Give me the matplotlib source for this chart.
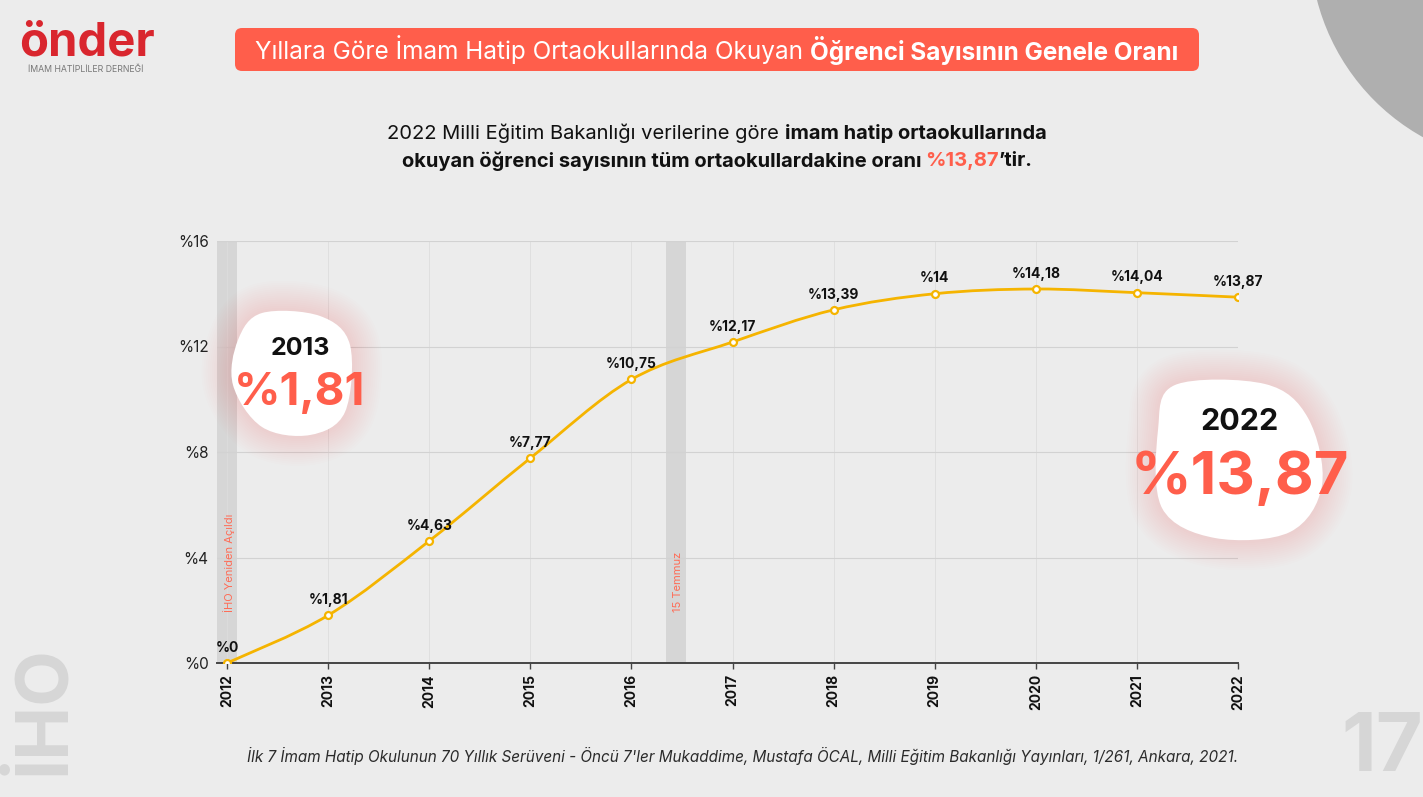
import numpy as np
import matplotlib
matplotlib.use('Agg')
import matplotlib.pyplot as plt
from matplotlib.path import Path
from matplotlib.patches import PathPatch, FancyBboxPatch, Circle

plt.rcParams['font.family'] = ['Inter', 'DejaVu Sans']

# veri
years = [2012, 2013, 2014, 2015, 2016, 2017, 2018, 2019, 2020, 2021, 2022]
ratios = [0, 1.81, 4.63, 7.77, 10.75, 12.17, 13.39, 14.00, 14.18, 14.04, 13.87]
y_ticks = [0, 4, 8, 12, 16]
events = [2012.0, 2016.44]
event_labels = ["İHO Yeniden Açıldı", "15 Temmuz"]

title_regular = "Yıllara Göre İmam Hatip Ortaokullarında Okuyan"
title_bold = "Öğrenci Sayısının Genele Oranı"
source = ("İlk 7 İmam Hatip Okulunun 70 Yıllık Serüveni - Öncü 7'ler Mukaddime, "
          "Mustafa ÖCAL, Milli Eğitim Bakanlığı Yayınları, 1/261, Ankara, 2021.")

W, H = 1423, 797
BG = '#ECECEC'
RED = '#FF5E4B'
YELLOW = '#F5B400'


def pct(v):
    s = f"{v:.2f}".rstrip('0').rstrip('.')
    return "%" + s.replace('.', ',')


def smooth_path(xs, ys, closed=False):
    pts = np.column_stack([xs, ys]).astype(float)
    n = len(pts)
    if closed:
        get = lambda i: pts[i % n]
        segs = n
    else:
        get = lambda i: pts[min(max(i, 0), n - 1)]
        segs = n - 1
    verts = [pts[0]]
    codes = [Path.MOVETO]
    for i in range(segs):
        p0, p1, p2, p3 = get(i - 1), get(i), get(i + 1), get(i + 2)
        verts += [p1 + (p2 - p0) / 6, p2 - (p3 - p1) / 6, p2]
        codes += [Path.CURVE4] * 3
    if closed:
        verts.append(pts[0])
        codes.append(Path.CLOSEPOLY)
    return Path(verts, codes)


fig = plt.figure(figsize=(W / 100, H / 100), dpi=100, facecolor=BG)
renderer = fig.canvas.get_renderer()

# arka plan
bg = fig.add_axes([0, 0, 1, 1], zorder=0)
bg.set_xlim(0, W)
bg.set_ylim(H, 0)
bg.axis('off')
bg.set_facecolor(BG)
bg.add_patch(Circle((1530, -55), 220, color='#AFAFAF', lw=0))
bg.text(44, 710, "İHO", rotation=90, fontsize=52, fontweight='bold',
        color='#D6D6D6', ha='center', va='center')
bg.text(1382, 750, "17", fontsize=58, fontweight='bold', color='#D6D6D6',
        ha='center', va='center')

# grafik
ax = fig.add_axes([217 / W, 1 - 663 / H, (1238 - 217) / W, (663 - 241) / H], zorder=1)
ax.patch.set_alpha(0)
ax.set_xlim(2011.9, 2022)
ax.set_ylim(0, 16)

for ev, lab in zip(events, event_labels):
    ax.axvspan(ev - 0.1, ev + 0.1, color='#D6D6D6', lw=0, zorder=0)
    ax.text(ev + 0.02, 1.95, lab, rotation=90, fontsize=8, color='#FF6B55',
            ha='center', va='bottom', zorder=1)

ax.set_yticks(y_ticks)
ax.set_yticklabels([pct(v) for v in y_ticks], fontsize=11, color='#222')
ax.set_xticks(years)
ax.set_xticklabels([str(y) for y in years], rotation=90, fontsize=10,
                   fontweight='bold', color='#111')
ax.tick_params(axis='y', length=0, pad=6)
ax.tick_params(axis='x', length=4, width=1, color='#444', pad=4)
ax.grid(axis='y', color='#D2D2D2', lw=0.8)
ax.grid(axis='x', color='#DDDDDD', lw=0.6)
ax.set_axisbelow(True)
for s in ['top', 'right', 'left']:
    ax.spines[s].set_visible(False)
ax.spines['bottom'].set_color('#444')
ax.spines['bottom'].set_linewidth(1.4)

ax.add_patch(PathPatch(smooth_path(years, ratios), fc='none', ec=YELLOW, lw=2, zorder=3))
ax.plot(years, ratios, ls='none', marker='o', ms=5, mfc='white', mec=YELLOW,
        mew=1.6, zorder=4)
for x, v in zip(years, ratios):
    ax.annotate(pct(v), (x, v), xytext=(0, 6), textcoords='offset points',
                ha='center', va='bottom', fontsize=10, fontweight='bold', color='#111')

# ön katman
fg = fig.add_axes([0, 0, 1, 1], zorder=3)
fg.set_xlim(0, W)
fg.set_ylim(H, 0)
fg.axis('off')
fg.patch.set_alpha(0)


def rich_line(ax_, xc, y, parts, size):
    # parts: (metin, kalınlık, renk, önündeki boşluk oranı)
    sp = fg.text(0, 0, "x x", fontsize=size)
    sp2 = fg.text(0, 0, "xx", fontsize=size)
    space = sp.get_window_extent(renderer).width - sp2.get_window_extent(renderer).width
    sp.remove()
    sp2.remove()
    objs, widths = [], []
    for txt, wt, col, gap in parts:
        t = ax_.text(0, y, txt, fontsize=size, fontweight=wt, color=col, va='center')
        objs.append((t, space * gap))
        widths.append(t.get_window_extent(renderer).width + space * gap)
    x = xc - sum(widths) / 2
    for (t, g), w in zip(objs, widths):
        t.set_x(x + g)
        x += w


# logo
fg.text(87, 43, "önder", fontsize=34, fontweight='bold', color='#D9262E',
        ha='center', va='center')
fg.text(86, 69, "İMAM HATİPLİLER DERNEĞİ", fontsize=6.3, color='#777777',
        ha='center', va='center')

# başlık
fg.add_patch(FancyBboxPatch((235, 28), 964, 43, boxstyle='round,pad=0,rounding_size=7',
                            fc=RED, ec='none'))
rich_line(fg, 717, 50, [(title_regular, 'normal', 'white', 0),
                        (title_bold, 'bold', 'white', 1)], 17.5)

rich_line(fg, 717, 133, [("2022 Milli Eğitim Bakanlığı verilerine göre", 'normal', '#111', 0),
                         ("imam hatip ortaokullarında", 'bold', '#111', 1)], 14.5)
rich_line(fg, 717, 161, [("okuyan öğrenci sayısının tüm ortaokullardakine oranı", 'bold', '#111', 0),
                         ("%13,87", 'bold', RED, 0.6),
                         ("’tir.", 'bold', '#111', 0)], 14.5)

# vurgu balonları
blob1 = smooth_path([262, 320, 350, 345, 310, 262, 233, 238],
                    [313, 316, 345, 412, 435, 427, 385, 340], closed=True)
blob2 = smooth_path([1175, 1265, 1308, 1322, 1290, 1215, 1162, 1158],
                    [385, 384, 418, 485, 532, 538, 508, 430], closed=True)
for b in [blob1, blob2]:
    for i in range(14):
        shadow = PathPatch(b, fc='none', ec=RED, lw=4 + i * 3, alpha=0.012,
                           joinstyle='round')
        fg.add_patch(shadow)
    fg.add_patch(PathPatch(b, fc='white', ec='none'))

fg.text(300, 348, "2013", fontsize=18, fontweight='bold', color='#111',
        ha='center', va='center')
fg.text(300, 393, pct(ratios[1]), fontsize=33, fontweight='bold', color=RED,
        ha='center', va='center')
fg.text(1240, 422, "2022", fontsize=22, fontweight='bold', color='#111',
        ha='center', va='center')
fg.text(1240, 478, pct(ratios[-1]), fontsize=43, fontweight='bold', color=RED,
        ha='center', va='center')

# kaynak
fg.text(743, 756, source, fontsize=11, style='italic', color='#2B2B2B',
        ha='center', va='center')

plt.savefig("out.png", dpi=100, facecolor=BG)
